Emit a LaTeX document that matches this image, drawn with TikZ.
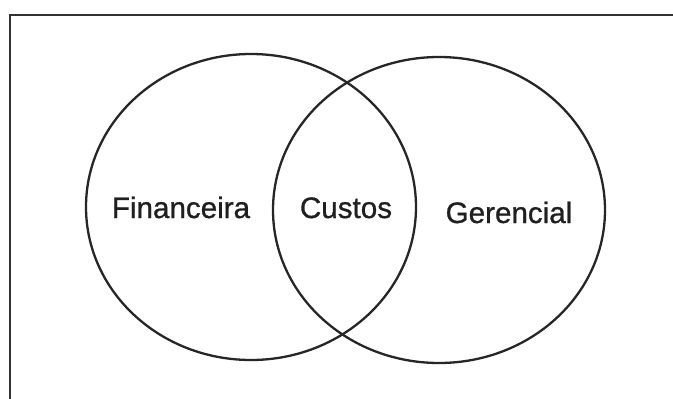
\documentclass[tikz,border=0pt]{standalone}
\usepackage{fontspec}
\setmainfont{Liberation Sans}
\newfontfamily\vennfont[FakeBold=0.9]{Liberation Sans}
\usetikzlibrary{shapes.geometric}
\begin{document}
\begin{tikzpicture}[x=1pt,y=-1pt]
			\useasboundingbox (0,0) rectangle (673,399);
			\draw[line width=1.8pt,black!80](10,399)--(10,15)--(673,15);
			\node[draw,ellipse,line width=2.3pt,black!85,minimum width=330pt,minimum height=306pt,inner sep=0pt](fin) at (251,207){};
			\node[draw,ellipse,line width=2.3pt,black!85,minimum width=332pt,minimum height=306pt,inner sep=0pt](ger) at (439,210){};
			\node[anchor=base,inner sep=0pt,black!88,font=\vennfont\fontsize{29.6}{32}\selectfont](lfin) at (181,218){Financeira};
			\node[anchor=base,inner sep=0pt,black!88,font=\vennfont\fontsize{29.6}{32}\selectfont](lcus) at (346,218){Custos};
			\node[anchor=base,inner sep=0pt,black!88,font=\vennfont\fontsize{29.6}{32}\selectfont](lger) at (509,223){Gerencial};
		\end{tikzpicture}
\end{document}
